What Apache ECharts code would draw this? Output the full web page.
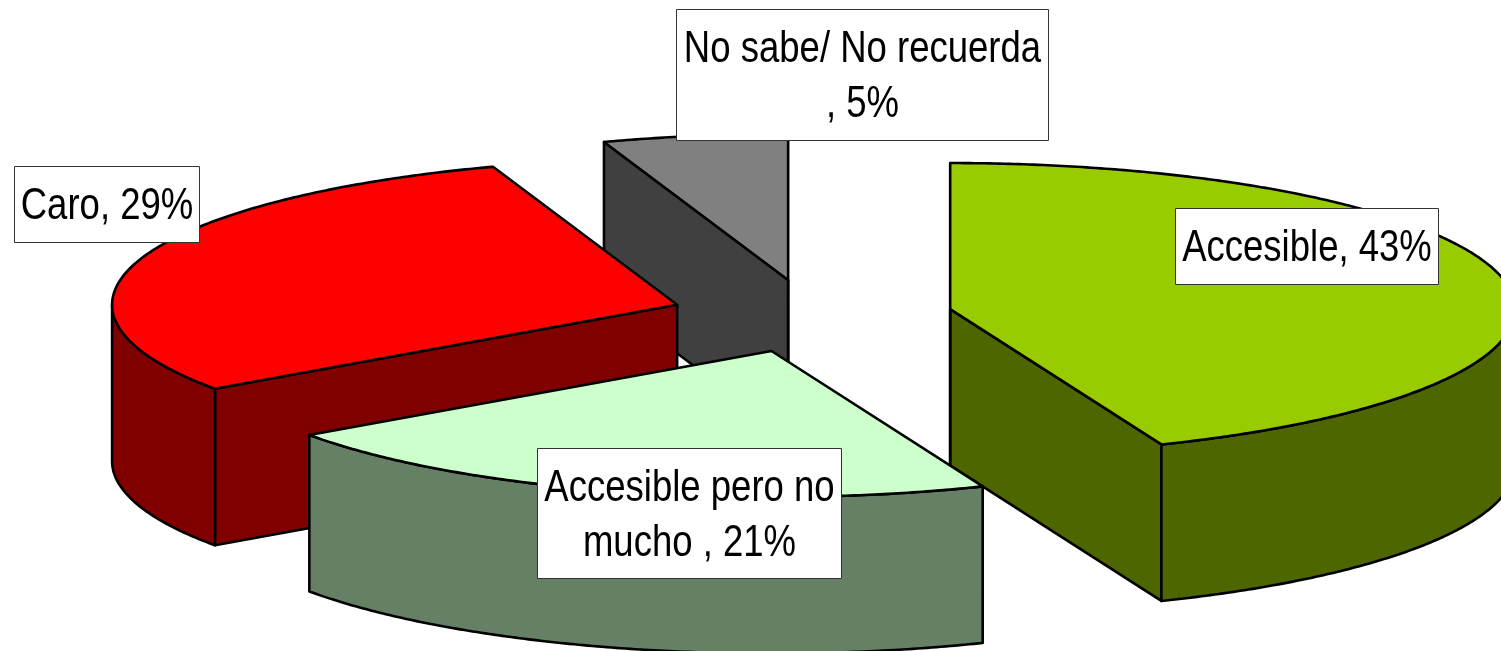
<!DOCTYPE html>
<html>
<head>
<meta charset="utf-8">
<style>html,body{margin:0;padding:0;background:#fff;overflow:hidden}#c{width:1501px;height:651px}</style>
<script src="https://cdn.jsdelivr.net/npm/echarts@6/dist/echarts.min.js"></script>
</head>
<body>
<div id="c"></div>
<script>
const categories = ['Accesible', 'Accesible pero no mucho', 'Caro', 'No sabe/ No recuerda'];
const values = [43.2, 21, 29, 5.2];
const labelTexts = ['Accesible, 43%', 'Accesible pero no\nmucho , 21%', 'Caro, 29%', 'No sabe/ No recuerda\n, 5%'];

const topColors = ['#99CC00', '#CCFFCC', '#FF0000', '#808080'];
const sideColors = ['#4D6600', '#668066', '#800000', '#404040'];
const drawOrder = [3, 2, 0, 1];
const labelBoxes = [
  [1175, 208, 263, 76],
  [537, 448, 304, 130],
  [14, 166, 185, 76],
  [676, 9, 372, 131]
];
const pie = { cx: 811.5, cy: 316, rx: 565, ry: 146, depth: 156.5, explode: 0.25 };

const total = values.reduce((a, b) => a + b, 0);
const DEG = Math.PI / 180;
function sliceAngles(i) {
  let s = 0;
  for (let k = 0; k < i; k++) s += values[k];
  return [s / total * 360, (s + values[i]) / total * 360];
}
function rimPoints(tip, a0, a1, dy) {
  const pts = [];
  const n = Math.max(2, Math.ceil((a1 - a0) * 2));
  for (let k = 0; k <= n; k++) {
    const a = (a0 + (a1 - a0) * k / n) * DEG;
    pts.push([tip[0] + pie.rx * Math.sin(a), tip[1] - pie.ry * Math.cos(a) + dy]);
  }
  return pts;
}
const lineStyle = { stroke: '#000', lineWidth: 2.6, lineJoin: 'round' };
function poly(points, fill) {
  return { type: 'polygon', shape: { points }, style: Object.assign({ fill }, lineStyle), silent: true };
}
function renderSlice(params, api) {
  const i = drawOrder[params.dataIndex];
  const [a0, a1] = sliceAngles(i);
  const mid = (a0 + a1) / 2 * DEG;
  const tip = [
    pie.cx + pie.explode * pie.rx * Math.sin(mid),
    pie.cy - pie.explode * pie.ry * Math.cos(mid)
  ];
  const children = [];
  const side = sideColors[i];
  const d = pie.depth;
  const rim = a => [tip[0] + pie.rx * Math.sin(a * DEG), tip[1] - pie.ry * Math.cos(a * DEG)];
  const face = a => {
    const p = rim(a);
    return poly([tip, p, [p[0], p[1] + d], [tip[0], tip[1] + d]], side);
  };
  if (Math.sin(a0 * DEG) < 0) children.push(face(a0));
  if (Math.sin(a1 * DEG) > 0) children.push(face(a1));
  const w0 = Math.max(a0, 90), w1 = Math.min(a1, 270);
  if (w1 > w0) {
    const upper = rimPoints(tip, w0, w1, 0);
    const lower = rimPoints(tip, w0, w1, d).reverse();
    children.push(poly(upper.concat(lower), side));
  }
  if (Math.abs(Math.sin(a0 * DEG)) < 1e-6 || Math.abs(Math.sin(a1 * DEG)) < 1e-6) {
    children.push({ type: 'line', shape: { x1: tip[0], y1: tip[1], x2: tip[0], y2: tip[1] + d },
      style: { stroke: '#000', lineWidth: 2.6 }, silent: true });
  }
  children.push(poly([tip].concat(rimPoints(tip, a0, a1, 0)), topColors[i]));
  return { type: 'group', children };
}
function renderLabel(params, api) {
  const i = params.dataIndex;
  const b = labelBoxes[i];
  return {
    type: 'group',
    children: [
      { type: 'rect', shape: { x: b[0] + 0.5, y: b[1] + 0.5, width: b[2], height: b[3] },
        style: { fill: '#fff', stroke: '#333', lineWidth: 1 }, silent: true },
      { type: 'text', silent: true,
        x: b[0] + b[2] / 2 + 0.5, y: b[1] + b[3] / 2 + 3, scaleX: 0.83, scaleY: 1,
        style: { x: 0, y: 0, text: labelTexts[i], fill: '#000',
          font: '44px "Liberation Sans", Arial, sans-serif',
          lineHeight: 55, align: 'center', verticalAlign: 'middle' } }
    ]
  };
}
const chart = echarts.init(document.getElementById('c'), null, { renderer: 'canvas' });
chart.setOption({
  animation: false,
  backgroundColor: '#fff',
  series: [
    { type: 'custom', coordinateSystem: 'none', z: 2, renderItem: renderSlice,
      data: drawOrder.map(i => ({ name: categories[i], value: [values[i]] })) },
    { type: 'custom', coordinateSystem: 'none', z: 3, renderItem: renderLabel,
      data: categories.map((c, i) => ({ name: c, value: [values[i]] })) }
  ]
});
</script>
</body>
</html>
